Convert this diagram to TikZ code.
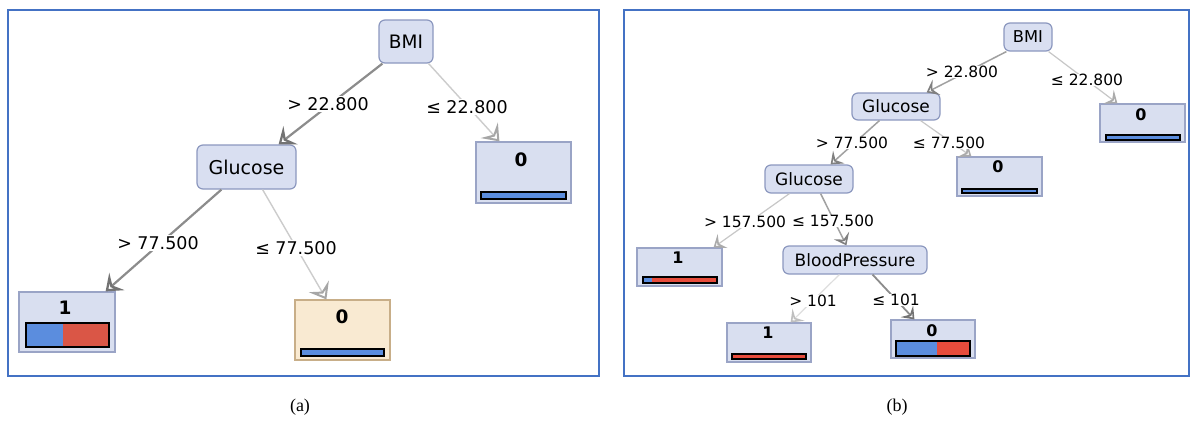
\documentclass[tikz,border=0pt]{standalone}
\usepackage{fontspec}
\usetikzlibrary{arrows.meta}
\newfontfamily\treefont{DejaVu Sans}
\newfontfamily\capfont{Liberation Serif}
\definecolor{nodefill}{HTML}{D9DFF1}
\definecolor{nodeborder}{HTML}{8C98BF}
\definecolor{leaffill}{HTML}{D9DFF0}
\definecolor{leafborder}{HTML}{9AA4C6}
\definecolor{beigefill}{HTML}{F9EAD2}
\definecolor{beigeborder}{HTML}{C8AE88}
\definecolor{barblue}{HTML}{5B8DDE}
\definecolor{barred}{HTML}{DA5646}
\definecolor{barredb}{HTML}{E74C3C}
\definecolor{panelblue}{HTML}{4472C4}
\tikzset{
  innernode/.style={draw=nodeborder, fill=nodefill, rounded corners=6pt, line width=1.2pt, inner sep=0pt, text=black},
  leafnode/.style={draw=leafborder, fill=leaffill, line width=1.2pt, inner sep=0pt},
  beigeleaf/.style={draw=beigeborder, fill=beigefill, line width=1.2pt, inner sep=0pt},
  lblA/.style={fill=white, inner sep=1pt, font=\treefont\fontsize{17.5}{20}\selectfont},
  lblB/.style={fill=white, inner sep=0.5pt, font=\treefont\fontsize{15.5}{18}\selectfont},
  digA/.style={inner sep=0pt, font=\treefont\bfseries\fontsize{18.5}{20}\selectfont},
  digB/.style={inner sep=0pt, font=\treefont\bfseries\fontsize{16}{18}\selectfont},
  edgedark/.style={draw=black!45, line width=2.2pt, -{Stealth[open, length=15pt, width=23pt, inset=6pt, line width=2.4pt, color=black!55]}},
  edgelight/.style={draw=black!20, line width=1.4pt, -{Stealth[open, length=15pt, width=23pt, inset=6pt, line width=2pt, color=black!35]}},
  edgedarkB/.style={draw=black!45, line width=1.8pt, -{Stealth[open, length=11pt, width=17pt, inset=4.5pt, line width=2.2pt, color=black!55]}},
  edgemidB/.style={draw=black!37, line width=1.5pt, -{Stealth[open, length=11pt, width=17pt, inset=4.5pt, line width=2pt, color=black!50]}},
  edgelightB/.style={draw=black!22, line width=1.2pt, -{Stealth[open, length=11pt, width=17pt, inset=4.5pt, line width=1.7pt, color=black!33]}},
  edgepaleB/.style={draw=black!13, line width=1.2pt, -{Stealth[open, length=11pt, width=17pt, inset=4.5pt, line width=1.7pt, color=black!25]}},
  barline/.style={draw=black, line width=1.3pt},
  panel/.style={draw=panelblue, line width=1.5pt},
}
\begin{document}
\begin{tikzpicture}[x=1pt,y=-1pt]
\useasboundingbox[fill=white] (0,0) rectangle (1192,421);
% panels
\draw[panel] (8,10) rectangle (599,376);
\draw[panel] (624,10) rectangle (1189,376);
\node[font=\capfont\fontsize{18}{20}\selectfont] (capA) at (300,407) {(a)};
\node[font=\capfont\fontsize{18}{20}\selectfont] (capB) at (897,407) {(b)};

% ---------------- panel (a) ----------------
\node[innernode, minimum width=54pt, minimum height=43pt, font=\treefont\fontsize{18.5}{20}\selectfont] (bmiA) at (406,41.5) {BMI};
\node[innernode, minimum width=99pt, minimum height=44pt, font=\treefont\fontsize{19}{21}\selectfont] (glucA) at (246.5,167) {Glucose};
\node[leafnode, minimum width=95pt, minimum height=61pt] (leafAr) at (523.5,172.5) {};
\node[leafnode, minimum width=96pt, minimum height=60pt] (leafAl) at (67,322) {};
\node[beigeleaf, minimum width=95pt, minimum height=60pt] (leafAm) at (342.5,330) {};

\draw[edgedark] ([xshift=4pt]bmiA.south west) -- ([xshift=-18pt]glucA.north east);
\draw[edgelight] ([xshift=-5pt]bmiA.south east) -- ([xshift=24pt]leafAr.north west);
\draw[edgedark] ([xshift=25pt]glucA.south west) -- ([xshift=-10pt]leafAl.north east);
\draw[edgelight] ([xshift=-34pt]glucA.south east) -- ([xshift=32pt]leafAm.north west);

\node[lblA] (lA1) at (328,104) {> 22.800};
\node[lblA] (lA2) at (467,107) {≤ 22.800};
\node[lblA] (lA3) at (158,243) {> 77.500};
\node[lblA] (lA4) at (296,248) {≤ 77.500};

\node[digA] (dAr) at (521,160) {0};
\fill[barblue] (481,192) rectangle (566,199);
\draw[barline] (481,192) rectangle (566,199);
\node[digA] (dAl) at (65,308) {1};
\fill[barblue] (26,323) rectangle (63,347);
\fill[barred] (63,323) rectangle (109,347);
\draw[barline] (26,323) rectangle (109,347);
\node[digA] (dAm) at (342,317) {0};
\fill[barblue] (301,349) rectangle (384,356);
\draw[barline] (301,349) rectangle (384,356);

% ---------------- panel (b) ----------------
\node[innernode, minimum width=48pt, minimum height=28pt, font=\treefont\fontsize{16.3}{18}\selectfont] (bmiB) at (1028,37) {BMI};
\node[innernode, minimum width=88pt, minimum height=27pt, font=\treefont\fontsize{17}{19}\selectfont] (gluc1B) at (896,106.5) {Glucose};
\node[innernode, minimum width=88pt, minimum height=28pt, font=\treefont\fontsize{17}{19}\selectfont] (gluc2B) at (809,179) {Glucose};
\node[innernode, minimum width=144pt, minimum height=28pt, font=\treefont\fontsize{17}{19}\selectfont] (bpB) at (855,260) {BloodPressure};
\node[leafnode, minimum width=85pt, minimum height=38pt] (leafBr) at (1142.5,123) {};
\node[leafnode, minimum width=85pt, minimum height=39pt] (leafBm) at (999.5,176.5) {};
\node[leafnode, minimum width=85pt, minimum height=38pt] (leafBl) at (679.5,267) {};
\node[leafnode, minimum width=84pt, minimum height=39pt] (leafBb1) at (769,342.5) {};
\node[leafnode, minimum width=84pt, minimum height=38pt] (leafBb0) at (933,339) {};

\draw[edgemidB] ([xshift=3pt]bmiB.south west) -- ([xshift=-14pt]gluc1B.north east);
\draw[edgelightB] ([xshift=-4pt]bmiB.south east) -- ([xshift=18pt]leafBr.north west);
\draw[edgemidB] ([xshift=28pt]gluc1B.south west) -- ([xshift=-23pt]gluc2B.north east);
\draw[edgelightB] ([xshift=-20pt]gluc1B.south east) -- ([xshift=15pt]leafBm.north west);
\draw[edgelightB] ([xshift=25pt]gluc2B.south west) -- ([xshift=-9pt]leafBl.north east);
\draw[edgemidB] ([xshift=-33pt]gluc2B.south east) -- ([xshift=64pt]bpB.north west);
\draw[edgepaleB] ([xshift=57pt]bpB.south west) -- ([xshift=-21pt]leafBb1.north east);
\draw[edgedarkB] ([xshift=-55pt]bpB.south east) -- ([xshift=24pt]leafBb0.north west);

\node[lblB] (lB1) at (962,72) {> 22.800};
\node[lblB] (lB2) at (1087,80) {≤ 22.800};
\node[lblB] (lB3) at (852,143) {> 77.500};
\node[lblB] (lB4) at (949,143) {≤ 77.500};
\node[lblB] (lB5) at (745,222) {> 157.500};
\node[lblB] (lB6) at (833,221) {≤ 157.500};
\node[lblB] (lB7) at (813,301) {> 101};
\node[lblB] (lB8) at (896,300) {≤ 101};

\node[digB] (dBr) at (1141,115) {0};
\fill[barblue] (1106,135) rectangle (1180,140);
\draw[barline] (1106,135) rectangle (1180,140);
\node[digB] (dBm) at (998,167) {0};
\fill[barblue] (962,189) rectangle (1037,193);
\draw[barline] (962,189) rectangle (1037,193);
\node[digB] (dBl) at (678,258) {1};
\fill[barblue] (643,277) rectangle (652,283);
\fill[barredb] (652,277) rectangle (717,283);
\draw[barline] (643,277) rectangle (717,283);
\node[digB] (dBb1) at (768,333) {1};
\fill[barredb] (732,354) rectangle (806,359);
\draw[barline] (732,354) rectangle (806,359);
\node[digB] (dBb0) at (932,331) {0};
\fill[barblue] (896,341) rectangle (937,356);
\fill[barredb] (937,341) rectangle (970,356);
\draw[barline] (896,341) rectangle (970,356);
\end{tikzpicture}
\end{document}
